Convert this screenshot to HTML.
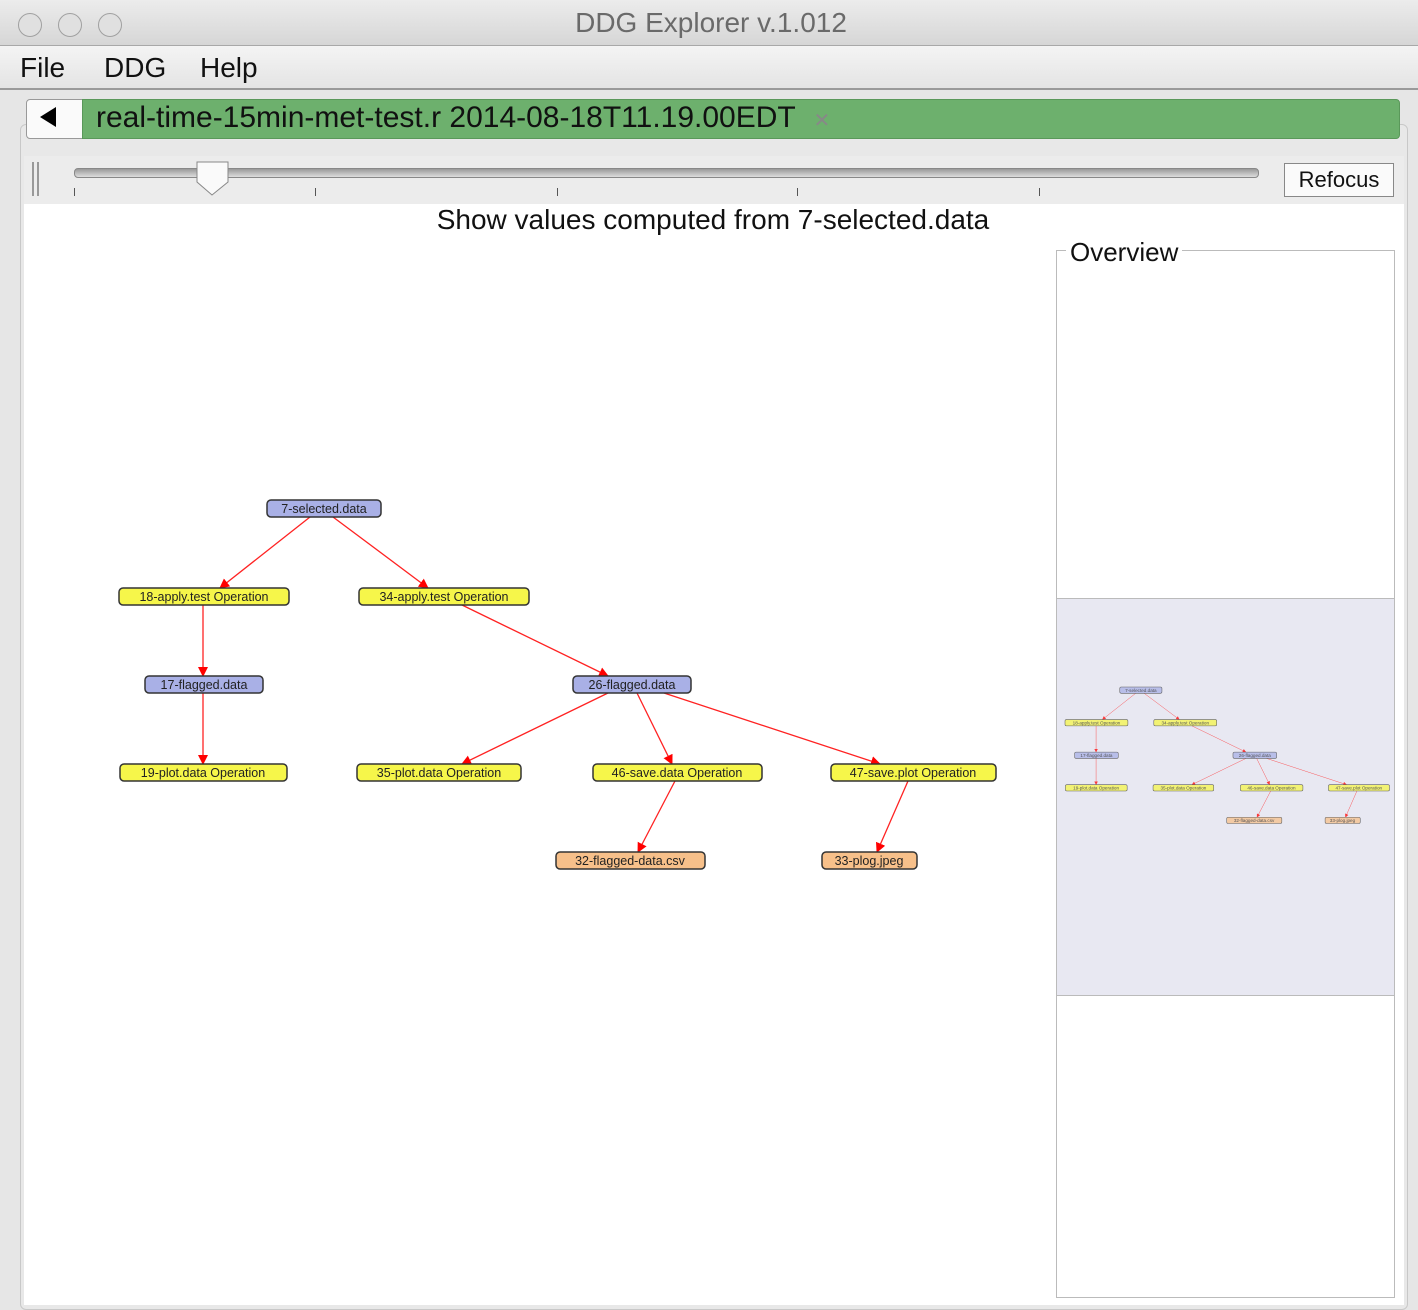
<!DOCTYPE html>
<html><head><style>
body{margin:0;width:1418px;height:1308px;overflow:hidden;background:#e6e6e6;font-family:"Liberation Sans",sans-serif;position:relative}
.a{position:absolute}
</style></head><body>
<div class="a" style="left:0;top:0;width:1418px;height:45px;background:linear-gradient(#ececec,#d6d6d6);border-bottom:1px solid #a8a8a8"></div>
<div class="a" style="left:18px;top:13px;width:22px;height:22px;border-radius:50%;background:#e0e0e0;border:1px solid #a0a0a0"></div>
<div class="a" style="left:58px;top:13px;width:22px;height:22px;border-radius:50%;background:#e0e0e0;border:1px solid #a0a0a0"></div>
<div class="a" style="left:98px;top:13px;width:22px;height:22px;border-radius:50%;background:#e0e0e0;border:1px solid #a0a0a0"></div>
<div class="a" style="left:0;top:7px;width:1422px;text-align:center;font-size:28px;color:#6a6a6a">DDG Explorer v.1.012</div>
<div class="a" style="left:0;top:46px;width:1418px;height:42px;background:linear-gradient(#f4f4f4,#e4e4e4);border-bottom:2px solid #9a9a9a"></div>
<div class="a" style="left:20px;top:52px;font-size:28px;color:#111">File</div>
<div class="a" style="left:104px;top:52px;font-size:28px;color:#111">DDG</div>
<div class="a" style="left:200px;top:52px;font-size:28px;color:#111">Help</div>
<div class="a" style="left:20px;top:124px;width:1386px;height:1184px;background:#e8e8e8;border:1px solid #c8c8c8;border-radius:6px"></div>
<div class="a" style="left:26px;top:99px;width:56px;height:38px;background:#fafafa;border:1px solid #999;border-radius:4px 0 0 4px"></div>
<div class="a" style="left:40px;top:107px;width:0;height:0;border-top:10px solid transparent;border-bottom:10px solid transparent;border-right:16px solid #000"></div>
<div class="a" style="left:82px;top:99px;width:1316px;height:38px;background:#6db06d;border:1px solid #5a985a;border-radius:0 4px 4px 0"></div>
<div class="a" style="left:96px;top:101px;font-size:30px;color:#111;white-space:nowrap">real-time-15min-met-test.r 2014-08-18T11.19.00EDT <span style="color:#888;font-size:20px;margin-left:10px">✕</span></div>
<div class="a" style="left:24px;top:156px;width:1380px;height:48px;background:#ececec"></div>
<div class="a" style="left:32px;top:162px;width:2px;height:34px;background:#999"></div>
<div class="a" style="left:37px;top:162px;width:2px;height:34px;background:#999"></div>
<div class="a" style="left:74px;top:168px;width:1183px;height:8px;border-radius:4px;background:linear-gradient(#999,#ddd);border:1px solid #888"></div>
<div class="a" style="left:74px;top:188px;width:1px;height:8px;background:#555"></div>
<div class="a" style="left:315px;top:188px;width:1px;height:8px;background:#555"></div>
<div class="a" style="left:557px;top:188px;width:1px;height:8px;background:#555"></div>
<div class="a" style="left:797px;top:188px;width:1px;height:8px;background:#555"></div>
<div class="a" style="left:1039px;top:188px;width:1px;height:8px;background:#555"></div>
<svg class="a" style="left:195px;top:160px" width="36" height="38"><path d="M2 2H33V22L17 35L2 22Z" fill="#fafafa" stroke="#888"/></svg>
<div class="a" style="left:1284px;top:163px;width:108px;height:32px;background:#fafafa;border:1px solid #888;font-size:22px;line-height:32px;text-align:center;color:#111">Refocus</div>
<div class="a" style="left:24px;top:204px;width:1380px;height:1101px;background:#fff"></div>
<div class="a" style="left:0;top:204px;width:1426px;text-align:center;font-size:28px;color:#111">Show values computed from 7-selected.data</div>
<div class="a" style="left:1056px;top:250px;width:337px;height:1046px;border:1px solid #bbb"></div>
<div class="a" style="left:1066px;top:237px;padding:0 4px;background:#fff;font-size:26px;color:#111">Overview</div>
<div class="a" style="left:1057px;top:598px;width:337px;height:396px;background:#e8e8f2;border-top:1px solid #bbb;border-bottom:1px solid #bbb"></div>
<svg class="a" style="left:0;top:0" width="1418" height="1308">
<defs>
<marker id="ar" markerWidth="10" markerHeight="10" refX="9" refY="5" orient="auto" markerUnits="userSpaceOnUse"><path d="M0 0L10 5L0 10Z" fill="#f00"/></marker>
<g id="gr">
<g stroke="#f22" stroke-width="1.3" marker-end="url(#ar)">
<line x1="310" y1="517" x2="220" y2="588"/><line x1="333" y1="517" x2="428" y2="588"/>
<line x1="203" y1="605" x2="203" y2="676"/><line x1="203" y1="693" x2="203" y2="764"/>
<line x1="462" y1="605" x2="608" y2="676"/><line x1="608" y1="693" x2="462" y2="764"/>
<line x1="637" y1="693" x2="672" y2="764"/><line x1="664" y1="693" x2="880" y2="764"/>
<line x1="675" y1="781" x2="638" y2="852"/><line x1="908" y1="781" x2="877" y2="852"/>
</g>
<g stroke="#333" stroke-width="1.5" font-size="12.5" font-family="Liberation Sans,sans-serif" text-anchor="middle">
<rect x="267" y="500" width="114" height="17" rx="4" fill="#a9b0e6"/>
<rect x="119" y="588" width="170" height="17" rx="4" fill="#f6f64a"/>
<rect x="359" y="588" width="170" height="17" rx="4" fill="#f6f64a"/>
<rect x="145" y="676" width="118" height="17" rx="4" fill="#a9b0e6"/>
<rect x="573" y="676" width="118" height="17" rx="4" fill="#a9b0e6"/>
<rect x="120" y="764" width="167" height="17" rx="4" fill="#f6f64a"/>
<rect x="357" y="764" width="164" height="17" rx="4" fill="#f6f64a"/>
<rect x="593" y="764" width="169" height="17" rx="4" fill="#f6f64a"/>
<rect x="831" y="764" width="165" height="17" rx="4" fill="#f6f64a"/>
<rect x="556" y="852" width="149" height="17" rx="4" fill="#f7c08a"/>
<rect x="822" y="852" width="95" height="17" rx="4" fill="#f7c08a"/>
<g stroke="none" fill="#222">
<text x="324" y="513">7-selected.data</text>
<text x="204" y="601">18-apply.test Operation</text>
<text x="444" y="601">34-apply.test Operation</text>
<text x="204" y="689">17-flagged.data</text>
<text x="632" y="689">26-flagged.data</text>
<text x="203" y="777">19-plot.data Operation</text>
<text x="439" y="777">35-plot.data Operation</text>
<text x="677" y="777">46-save.data Operation</text>
<text x="913" y="777">47-save.plot Operation</text>
<text x="630" y="865">32-flagged-data.csv</text>
<text x="869" y="865">33-plog.jpeg</text>
</g></g></g>
</defs>
<use href="#gr"/>
<g transform="translate(1065,687) scale(0.37) translate(-119,-500)" opacity="0.75"><use href="#gr"/></g>
</svg>
</body></html>
